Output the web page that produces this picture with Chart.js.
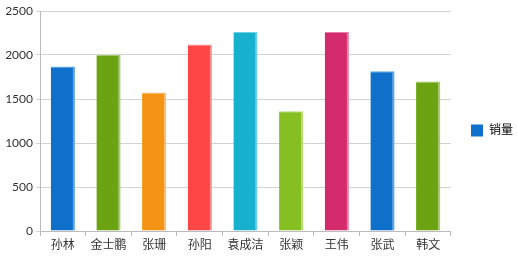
<!DOCTYPE html>
<html>
<head>
<meta charset="utf-8">
<style>
  html, body { margin: 0; padding: 0; background: #fff; }
  #wrap { width: 517px; height: 260px; }
</style>
<script src="https://cdn.jsdelivr.net/npm/chart.js@4"></script>
</head>
<body>
<div id="wrap"><canvas id="chart" width="517" height="260"></canvas></div>
<script>
const names = ["孙林", "金士鹏", "张珊", "孙阳", "袁成洁", "张颖", "王伟", "张武", "韩文"];
const sales = [1870, 2000, 1575, 2120, 2260, 1360, 2260, 1815, 1700];
const yTicks = [0, 500, 1000, 1500, 2000, 2500];

const barColors = ["#0F70CB", "#6CA312", "#F59414", "#FD4646", "#18B0CF", "#86BF22", "#D32B6B", "#0F70CB", "#6CA312"];
const edgeColors = ["#5EA6EA", "#A6CB6A", "#F8BD6E", "#FC9292", "#6FD0E4", "#B5DA74", "#E57FA7", "#5EA6EA", "#A6CB6A"];

const font = { family: "Lato, 'Noto Sans CJK SC', sans-serif", size: 12 };

// nudge the legend a little to the right and up
const legendShift = {
  id: "legendShift",
  afterLayout(chart) {
    chart.legend.left += 6;
    chart.legend.top -= 5;
    chart.legend.bottom -= 5;
  },
};

const ctx = document.getElementById("chart").getContext("2d");
new Chart(ctx, {
  type: "bar",
  data: {
    labels: names,
    datasets: [
      {
        label: "销量",
        data: sales,
        backgroundColor: barColors,
        borderColor: edgeColors,
        borderWidth: { top: 1, right: 2, left: 0, bottom: 0 },
        categoryPercentage: 0.53,
        barPercentage: 1,
      },
    ],
  },
  plugins: [legendShift],
  options: {
    responsive: false,
    animation: false,
    layout: { padding: { top: 11, left: 0, right: 0, bottom: 0 } },
    plugins: {
      tooltip: { enabled: false },
      legend: {
        position: "right",
        labels: {
          boxWidth: 12,
          boxHeight: 12,
          padding: 14,
          color: "#222",
          font: font,
          generateLabels: (chart) => [
            {
              text: "销量",
              fillStyle: barColors[0],
              strokeStyle: "#5EA6EA",
              lineWidth: 0,
              datasetIndex: 0,
            },
          ],
        },
      },
    },
    scales: {
      x: {
        ticks: { color: "#333", font: font, padding: 2 },
        grid: { drawOnChartArea: false, tickLength: 5, color: "#bbb" },
        border: { color: "#bbb" },
        afterFit: (s) => { s.height = 29; },
      },
      y: {
        min: 0,
        max: 2500,
        afterBuildTicks: (s) => { s.ticks = yTicks.map((v) => ({ value: v })); },
        ticks: { color: "#333", font: font, padding: 3, callback: (v) => String(v) },
        grid: { color: "#d4d4d4", tickLength: 4 },
        border: { color: "#bbb" },
        afterFit: (s) => { s.width = 40; },
      },
    },
  },
});
</script>
</body>
</html>
